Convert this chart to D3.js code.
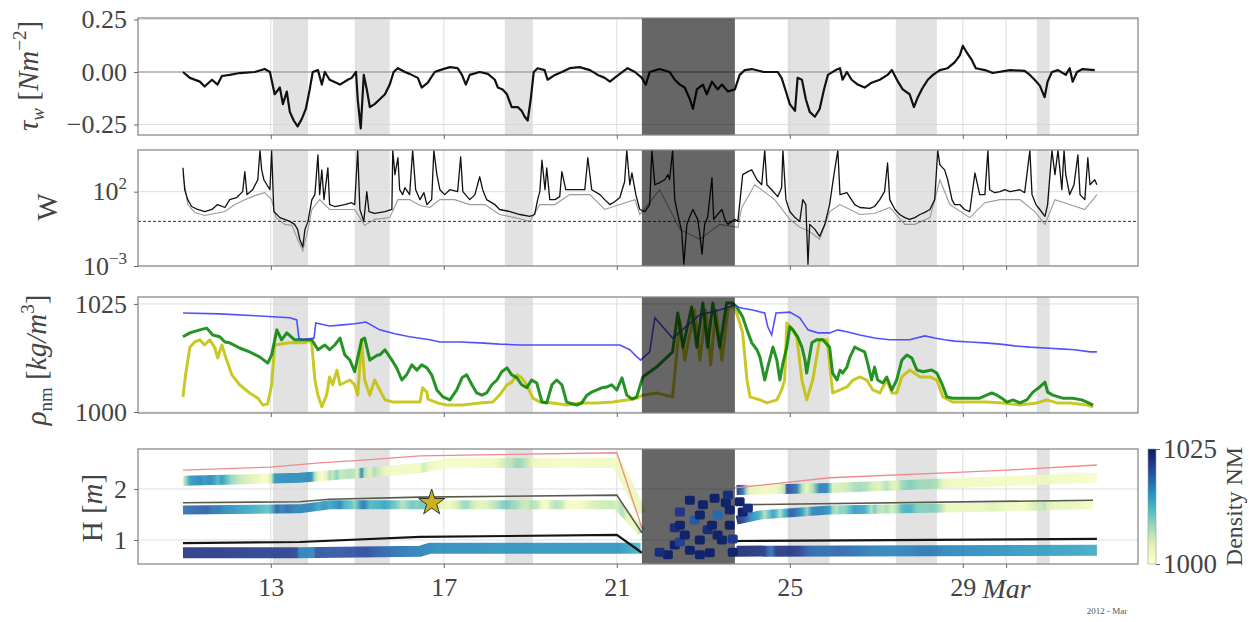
<!DOCTYPE html>
<html>
<head>
<meta charset="utf-8">
<script src="https://cdn.jsdelivr.net/npm/d3@7"></script>
<style>
  body { margin: 0; background: #fff; }
  svg { display: block; font-family: "Liberation Serif", "DejaVu Serif", serif; }
</style>
</head>
<body>
<svg id="chart" width="1250" height="622"></svg>
<script>
// ---- time axis (day of March 2012) ----
const xTicks = [13, 17, 21, 25, 29, 30];
const xTickLabels = ["13", "17", "21", "25", "29", "Mar"];
const lightSpans = [[13.05, 13.86], [14.94, 15.75], [18.41, 19.06], [24.95, 25.92], [27.45, 28.40], [30.71, 31.01]];
const darkSpan = [21.58, 23.73];

// ---- wind stress tau_w [N m^-2] ----
const tauTicks = [-0.25, 0, 0.25];
const tauSeries = [[10.97,0],[11.13,-0.028],[11.36,-0.046],[11.47,-0.069],[11.64,-0.037],[11.77,-0.060],[11.87,-0.019],[12.05,-0.014],[12.28,-0.005],[12.63,0],[12.86,0.014],[12.98,0],[13.09,-0.106],[13.21,-0.074],[13.28,-0.153],[13.37,-0.093],[13.44,-0.19],[13.53,-0.231],[13.62,-0.259],[13.72,-0.222],[13.81,-0.176],[13.90,-0.083],[13.97,0],[14.09,0.009],[14.18,-0.06],[14.25,0],[14.36,-0.037],[14.60,-0.06],[14.78,-0.037],[14.87,-0.028],[14.97,0],[15.01,-0.13],[15.08,-0.269],[15.15,-0.014],[15.22,-0.083],[15.29,-0.167],[15.40,-0.153],[15.52,-0.13],[15.64,-0.106],[15.75,-0.06],[15.84,0],[15.94,0.018],[16.10,0],[16.21,-0.009],[16.40,-0.028],[16.49,-0.074],[16.63,-0.051],[16.79,0],[16.91,0.009],[17.14,0.023],[17.32,0.018],[17.42,-0.014],[17.51,-0.06],[17.60,-0.014],[17.83,0],[18.02,-0.009],[18.18,-0.037],[18.25,-0.074],[18.36,-0.083],[18.46,-0.106],[18.57,-0.167],[18.71,-0.167],[18.80,-0.185],[18.87,-0.213],[18.94,-0.231],[19.01,-0.13],[19.08,0],[19.17,0.018],[19.33,0.009],[19.40,-0.037],[19.57,-0.014],[19.73,0],[19.91,0.018],[20.14,0.023],[20.38,0.009],[20.56,-0.014],[20.72,-0.028],[20.84,-0.046],[20.95,-0.028],[21.07,-0.009],[21.25,0.018],[21.42,0],[21.58,-0.028],[21.67,-0.06],[21.76,0],[21.99,0.014],[22.22,0],[22.34,-0.037],[22.46,-0.06],[22.57,-0.074],[22.69,-0.13],[22.76,-0.176],[22.85,-0.083],[22.99,-0.06],[23.08,-0.106],[23.20,-0.046],[23.33,-0.083],[23.43,-0.06],[23.57,-0.093],[23.73,-0.083],[23.84,-0.014],[23.96,0.009],[24.12,0.014],[24.40,0],[24.72,0],[24.81,-0.028],[24.91,-0.093],[25.00,-0.153],[25.12,-0.185],[25.18,-0.028],[25.28,-0.037],[25.37,-0.13],[25.46,-0.19],[25.58,-0.213],[25.69,-0.176],[25.79,-0.083],[25.88,-0.014],[26.06,0.009],[26.16,0.018],[26.22,-0.037],[26.32,0],[26.43,-0.037],[26.57,-0.06],[26.73,-0.074],[26.89,-0.051],[27.08,-0.037],[27.26,-0.014],[27.36,0.009],[27.50,-0.046],[27.61,-0.083],[27.77,-0.106],[27.87,-0.167],[27.96,-0.12],[28.05,-0.083],[28.19,-0.037],[28.31,-0.014],[28.47,0.009],[28.65,0.018],[28.81,0.046],[28.93,0.079],[29.00,0.125],[29.09,0.093],[29.21,0.056],[29.30,0.018],[29.51,0.009],[29.69,-0.005],[30.09,0.009],[30.43,0.005],[30.55,-0.014],[30.66,-0.037],[30.78,-0.065],[30.89,-0.12],[30.96,-0.046],[31.06,0],[31.20,0.009],[31.38,-0.014],[31.47,0.018],[31.54,-0.046],[31.64,0],[31.77,0.014],[32.05,0.009]];

// ---- W (log scale), two estimates and threshold ----
const wTicks = [1e-3, 1e2];
const wThreshold = 1;
const wBlack = [[10.97,4000],[11.01,135],[11.08,29],[11.17,10],[11.31,6.3],[11.47,4.6],[11.64,6.3],[11.77,13.5],[11.94,8.6],[12.05,29],[12.21,40],[12.35,100],[12.40,2200],[12.45,63],[12.58,135],[12.70,630],[12.75,6e4],[12.79,2900],[12.84,630],[12.91,290],[12.98,135],[13.02,6e4],[13.07,4.6],[13.21,1.8],[13.32,1.36],[13.44,1],[13.55,0.63],[13.62,0.29],[13.67,0.063],[13.74,0.019],[13.79,0.29],[13.86,1],[13.95,29],[14.02,63],[14.09,3e4],[14.13,63],[14.18,2900],[14.23,29],[14.32,4000],[14.36,13.5],[14.48,10],[14.71,13.5],[14.87,18],[14.94,13.5],[15.01,6e4],[15.06,6.3],[15.15,1],[15.22,100],[15.27,4.6],[15.40,3.4],[15.64,4.6],[15.80,6.3],[15.82,6e4],[15.87,1400],[15.94,1.9e4],[15.98,135],[16.05,63],[16.10,185],[16.21,63],[16.28,6e4],[16.35,135],[16.45,29],[16.54,85],[16.61,13.5],[16.72,29],[16.77,6e4],[16.84,1400],[16.91,135],[17.02,63],[17.14,135],[17.32,100],[17.39,2.2e4],[17.44,100],[17.60,29],[17.72,63],[17.83,1000],[17.90,135],[17.99,29],[18.18,13.5],[18.29,6.3],[18.53,4.6],[18.76,2.9],[18.99,2.2],[19.10,2.9],[19.17,29],[19.22,100],[19.27,1.3e4],[19.34,135],[19.38,4000],[19.45,29],[19.57,29],[19.68,46],[19.73,2200],[19.82,135],[20.03,135],[20.26,135],[20.33,1.9e4],[20.42,135],[20.61,63],[20.72,29],[20.84,13.5],[20.95,21],[21.07,40],[21.18,460],[21.23,6e4],[21.30,290],[21.35,1800],[21.44,63],[21.53,6.3],[21.65,4.6],[21.76,13.5],[21.81,6e4],[21.88,290],[21.99,400],[22.11,630],[22.18,1400],[22.22,630],[22.29,6e4],[22.34,29],[22.41,2.9],[22.50,0.21],[22.55,0.0013],[22.62,0.63],[22.69,2.2],[22.76,6.3],[22.87,1.36],[22.92,0.135],[22.97,0.0063],[23.03,0.63],[23.10,1.8],[23.20,860],[23.24,1.36],[23.33,2.9],[23.43,6.3],[23.50,1.36],[23.57,0.63],[23.66,1],[23.73,1.36],[23.80,1],[23.91,1400],[24.03,2200],[24.12,2900],[24.24,630],[24.35,290],[24.42,6e4],[24.47,290],[24.58,135],[24.72,46],[24.81,185],[24.84,6e4],[24.91,29],[25.00,4.6],[25.12,1.8],[25.23,1],[25.30,29],[25.37,13.5],[25.42,0.0013],[25.46,0.63],[25.58,0.29],[25.69,0.1],[25.81,0.63],[25.92,13.5],[26.02,1400],[26.11,6e4],[26.16,63],[26.32,85],[26.50,13.5],[26.62,8.6],[26.85,7.4],[26.96,10],[27.08,29],[27.19,100],[27.26,8500],[27.31,29],[27.43,6.3],[27.54,2.9],[27.66,1.8],[27.77,1.36],[27.89,1.8],[28.01,2.9],[28.12,4],[28.24,6.3],[28.35,29],[28.42,6e4],[28.47,6300],[28.58,2900],[28.65,630],[28.75,29],[28.81,13.5],[28.93,13.5],[29.04,6.3],[29.16,4.6],[29.28,1800],[29.39,63],[29.51,63],[29.58,6e4],[29.62,135],[29.74,85],[29.86,100],[29.97,135],[30.09,100],[30.32,135],[30.43,85],[30.55,6e4],[30.60,63],[30.69,13.5],[30.78,6.3],[30.90,2.2],[30.96,13.5],[31.06,6e4],[31.13,1400],[31.20,6e4],[31.29,135],[31.34,6e4],[31.38,1400],[31.47,63],[31.57,290],[31.66,3e4],[31.71,63],[31.82,29],[31.89,1.9e4],[31.94,290],[32.05,630],[32.10,290]];
const wGray = [[10.97,1400],[11.08,13.5],[11.24,4],[11.47,2.5],[11.71,3.4],[11.94,4.6],[12.17,13.5],[12.40,29],[12.63,54],[12.86,85],[13.02,29],[13.12,1.8],[13.32,0.63],[13.49,0.54],[13.62,0.063],[13.74,0.01],[13.86,0.29],[13.95,6.3],[14.13,29],[14.36,6.3],[14.71,6.3],[14.94,6.3],[15.06,1.8],[15.17,0.54],[15.40,1.36],[15.75,1.8],[15.94,29],[16.21,29],[16.45,11.7],[16.68,8.6],[16.91,29],[17.25,29],[17.60,13.5],[17.95,13.5],[18.29,2.9],[18.64,1.8],[18.99,1],[19.22,13.5],[19.57,13.5],[19.91,63],[20.38,63],[20.72,6.3],[21.07,13.5],[21.42,29],[21.53,2.9],[21.99,135],[22.46,0.29],[22.92,0.063],[23.38,0.63],[23.80,0.4],[23.89,8.6],[24.19,290],[24.65,29],[25.00,1.36],[25.23,0.4],[25.46,0.21],[25.69,0.063],[25.92,4.6],[26.16,13.5],[26.62,2.9],[26.96,3.4],[27.31,8.6],[27.66,0.63],[27.89,0.63],[28.24,1.8],[28.47,630],[28.70,13.5],[29.16,1.8],[29.51,18],[29.86,29],[30.32,29],[30.66,4.6],[30.90,0.63],[31.13,29],[31.47,13.5],[31.82,6.3],[32.10,63]];

// ---- density at three depths [kg m^-3] ----
const rhoTicks = [1000, 1025];
const rhoBlue = [[10.97,1022.9],[11.82,1022.7],[12.75,1022.2],[13.44,1021.8],[13.60,1021.3],[13.65,1017.1],[13.72,1016.7],[14.00,1017.1],[14.04,1020.6],[14.36,1019.9],[14.60,1020.1],[14.94,1020.4],[15.20,1020.8],[15.52,1019.0],[15.87,1018.1],[16.21,1017.4],[16.68,1016.7],[16.91,1016.2],[17.37,1016.2],[17.83,1016.0],[18.29,1015.7],[18.76,1015.5],[19.68,1015.5],[20.61,1015.5],[21.07,1015.5],[21.30,1014.4],[21.44,1013.0],[21.55,1012.0],[21.76,1013.9],[21.88,1021.8],[22.29,1017.1],[22.92,1022.5],[23.38,1023.6],[23.73,1024.8],[23.84,1024.1],[24.14,1023.6],[24.42,1022.9],[24.49,1019.7],[24.58,1017.8],[24.68,1022.9],[25.00,1023.1],[25.23,1021.8],[25.42,1019.0],[25.65,1018.3],[25.92,1018.3],[26.11,1019.0],[26.34,1018.5],[26.62,1017.8],[26.96,1017.1],[27.31,1016.7],[27.77,1016.7],[28.12,1017.6],[28.35,1017.1],[28.58,1016.7],[28.81,1016.4],[29.16,1016.2],[29.51,1016.0],[29.86,1015.7],[30.20,1015.3],[30.55,1015.0],[30.90,1014.8],[31.24,1014.6],[31.59,1014.4],[31.94,1013.9],[32.10,1013.9]];
const rhoGreen = [[10.97,1017.4],[11.13,1018.3],[11.36,1019.0],[11.52,1019.4],[11.66,1017.8],[11.82,1017.4],[11.94,1016.2],[12.05,1016.0],[12.28,1014.8],[12.51,1013.9],[12.75,1012.7],[12.93,1011.3],[13.02,1013.2],[13.14,1019.0],[13.25,1016.7],[13.37,1018.3],[13.55,1016.7],[13.79,1016.7],[13.95,1016.7],[14.09,1014.4],[14.25,1015.5],[14.36,1014.4],[14.48,1015.5],[14.60,1017.1],[14.71,1013.2],[14.83,1012.0],[14.94,1009.3],[15.10,1016.7],[15.17,1017.1],[15.29,1012.0],[15.47,1013.2],[15.52,1013.2],[15.64,1014.4],[15.80,1012.0],[15.91,1010.2],[16.03,1007.4],[16.14,1008.6],[16.26,1010.9],[16.38,1009.7],[16.49,1010.9],[16.61,1010.2],[16.72,1008.6],[16.84,1005.1],[16.98,1003.5],[17.14,1002.8],[17.30,1005.1],[17.42,1007.9],[17.53,1008.6],[17.65,1006.3],[17.76,1004.4],[17.88,1003.9],[17.99,1004.4],[18.11,1006.3],[18.23,1007.4],[18.34,1009.3],[18.46,1010.2],[18.57,1008.6],[18.69,1007.9],[18.80,1006.3],[18.92,1005.6],[19.03,1007.4],[19.15,1006.7],[19.27,1002.3],[19.38,1002.1],[19.50,1006.3],[19.61,1007.4],[19.73,1006.3],[19.84,1002.3],[19.96,1001.9],[20.08,1001.6],[20.19,1002.1],[20.31,1003.9],[20.42,1004.6],[20.54,1005.1],[20.65,1005.6],[20.77,1005.8],[20.88,1006.3],[21.00,1005.1],[21.12,1007.9],[21.23,1003.9],[21.35,1003.0],[21.46,1003.5],[21.60,1008.1],[21.92,1010.4],[22.29,1013.9],[22.41,1022.9],[22.53,1015.0],[22.73,1024.3],[22.85,1015.0],[22.99,1025.2],[23.10,1015.0],[23.22,1025.2],[23.38,1015.0],[23.54,1025.2],[23.68,1025.2],[23.77,1024.3],[23.91,1022.0],[24.01,1019.0],[24.12,1016.0],[24.24,1014.4],[24.31,1012.7],[24.42,1007.4],[24.49,1010.4],[24.61,1015.0],[24.70,1012.0],[24.77,1007.4],[24.84,1011.3],[24.93,1015.0],[25.00,1019.7],[25.07,1019.0],[25.18,1017.4],[25.28,1015.0],[25.35,1012.0],[25.39,1009.0],[25.51,1016.0],[25.62,1016.7],[25.76,1016.7],[25.92,1015.0],[25.99,1009.0],[26.09,1007.4],[26.16,1009.7],[26.22,1009.0],[26.32,1010.4],[26.39,1012.7],[26.50,1015.0],[26.62,1014.4],[26.73,1013.9],[26.80,1011.3],[26.89,1007.4],[26.96,1010.4],[27.03,1007.4],[27.15,1006.7],[27.24,1008.1],[27.36,1005.1],[27.47,1007.4],[27.59,1012.0],[27.71,1013.2],[27.82,1012.5],[27.94,1009.7],[28.08,1009.3],[28.28,1009.7],[28.40,1009.0],[28.51,1006.7],[28.63,1003.5],[28.77,1003.2],[29.16,1003.2],[29.39,1003.2],[29.55,1003.9],[29.67,1004.4],[29.79,1003.9],[29.90,1003.2],[30.02,1002.3],[30.16,1002.8],[30.32,1002.1],[30.48,1002.8],[30.62,1004.6],[30.78,1005.8],[30.90,1006.9],[30.96,1004.6],[31.08,1003.9],[31.31,1003.2],[31.54,1003.2],[31.75,1002.8],[31.87,1002.3],[32.01,1001.6]];
const rhoYellow = [[10.97,1003.5],[11.03,1008.6],[11.13,1015.0],[11.24,1016.2],[11.36,1016.7],[11.47,1015.5],[11.59,1016.7],[11.71,1014.8],[11.77,1012.5],[11.87,1015.5],[11.94,1013.2],[12.10,1008.6],[12.28,1006.3],[12.51,1004.4],[12.70,1003.2],[12.82,1001.6],[12.93,1001.9],[13.02,1006.3],[13.09,1015.5],[13.44,1016.0],[13.79,1016.0],[13.90,1016.7],[13.95,1015.5],[14.02,1007.4],[14.09,1003.9],[14.18,1001.2],[14.29,1003.9],[14.36,1008.1],[14.43,1006.3],[14.53,1009.7],[14.60,1006.3],[14.83,1007.4],[14.94,1006.3],[15.01,1003.9],[15.10,1016.7],[15.17,1007.4],[15.29,1003.9],[15.40,1007.4],[15.52,1005.1],[15.64,1002.8],[15.82,1002.3],[16.28,1002.3],[16.45,1002.3],[16.51,1005.6],[16.61,1004.6],[16.63,1003.0],[16.86,1002.1],[17.07,1001.6],[17.44,1001.6],[17.83,1002.1],[18.13,1002.3],[18.29,1003.9],[18.46,1006.3],[18.57,1006.9],[18.69,1008.6],[18.80,1007.9],[18.92,1006.3],[19.06,1003.2],[19.22,1002.3],[19.52,1002.1],[19.84,1001.6],[20.14,1002.1],[20.54,1002.1],[20.91,1002.3],[21.23,1002.8],[21.46,1003.2],[21.60,1003.9],[21.92,1004.4],[22.29,1003.5],[22.46,1021.3],[22.57,1012.0],[22.80,1023.6],[22.92,1012.0],[23.06,1023.6],[23.17,1010.9],[23.29,1023.6],[23.43,1012.0],[23.57,1023.6],[23.68,1024.8],[23.77,1022.9],[23.91,1018.3],[24.01,1007.4],[24.08,1003.5],[24.31,1002.8],[24.47,1002.1],[24.70,1002.8],[24.81,1005.1],[24.88,1007.4],[24.93,1020.6],[25.07,1019.0],[25.16,1017.4],[25.28,1007.4],[25.39,1002.8],[25.53,1007.4],[25.69,1016.7],[25.86,1016.7],[25.92,1011.3],[25.99,1004.4],[26.16,1005.1],[26.32,1005.8],[26.46,1007.4],[26.62,1008.1],[26.78,1007.4],[26.92,1005.1],[27.08,1004.4],[27.24,1007.4],[27.36,1004.4],[27.47,1004.4],[27.59,1008.1],[27.77,1009.7],[28.01,1008.1],[28.24,1008.1],[28.40,1007.4],[28.54,1003.5],[28.77,1002.3],[29.16,1002.3],[29.55,1002.3],[29.93,1002.1],[30.32,1001.6],[30.71,1002.1],[30.94,1002.8],[31.18,1002.1],[31.47,1002.1],[31.87,1001.6],[32.01,1001.2]];

// ---- sensor heights H [m] (null = gap) ----
const hTicks = [1, 2];
const hTopBand = [[10.97,2.16],[13.67,2.22],[15.29,2.33],[16.45,2.41],[17.14,2.51],[21.00,2.51],[21.58,1.53],null,[23.77,1.98],[25.92,2.02],[29.00,2.12],[32.10,2.22]];
const hMidBand = [[10.97,1.59],[13.67,1.61],[14.36,1.69],[21.00,1.69],[21.58,1.16],null,[23.77,1.39],[24.31,1.49],[25.92,1.59],[29.00,1.63],[32.01,1.69]];
const hBotBand = [[10.97,0.75],[13.67,0.75],[16.45,0.78],[16.68,0.84],[21.55,0.84],null,[23.77,0.78],[32.10,0.80]];
const hPinkLine = [[10.97,2.37],[12.98,2.43],[14.13,2.51],[15.22,2.57],[16.45,2.65],[21.00,2.71],[21.58,1.24],null,[23.73,2.02],[25.92,2.22],[29.00,2.33],[30.02,2.37],[32.10,2.47]];
const hMidLine = [[10.97,1.73],[13.67,1.75],[14.36,1.80],[16.45,1.84],[21.00,1.88],[21.58,1.14],null,[23.73,1.69],[32.01,1.78]];
const hBotLine = [[10.97,0.94],[13.67,0.96],[16.45,1.06],[21.00,1.10],[21.58,0.75],null,[23.77,0.98],[32.10,1.02]];
const hMixingPoints = [[22.34,0.90,1024],[22.34,1.24,1023],[22.46,1.55,1022],[22.46,1.29,1024],[22.46,0.96,1021],[22.57,1.10,1024],[22.69,1.78,1024],[22.69,0.80,1024],[22.80,1.39,1019],[22.92,1.00,1024],[22.92,1.49,1024],[22.92,0.71,1024],[22.99,1.69,1024],[23.10,1.20,1023],[23.15,0.75,1024],[23.20,1.29,1024],[23.26,1.82,1024],[23.33,1.49,1018],[23.33,1.10,1024],[23.43,1.00,1024],[23.52,1.73,1024],[23.57,1.88,1023],[23.61,1.29,1024],[23.61,1.59,1024],[23.68,0.76,1024],[23.68,1.02,1022],[22.18,0.71,1024],[21.99,0.76,1023],[23.84,1.75,1024],[23.91,1.55,1024],[24.03,1.62,1023]];
const starPoint = [16.72, 1.73];
const densityTicks = [1000, 1025];

// ---------------------------------------------------------------
const svg = d3.select("#chart");
const defs = svg.append("defs");
const LEFT = 138, RIGHT = 1138;
const FONT = "'Liberation Serif', 'DejaVu Serif', serif";
const TXT = "#444";

const x = d3.scaleLinear().domain([9.93, 33.05]).range([LEFT, RIGHT]);
const panels = [
  { top: 18, bottom: 135 },
  { top: 150, bottom: 266 },
  { top: 297, bottom: 413 },
  { top: 449, bottom: 564 }
];
const yTau = d3.scaleLinear().domain([-0.30, 0.257]).range([135, 18]);
const yW = d3.scaleLog().domain([1e-3, Math.pow(10, 4.8)]).range([266, 150]);
const yRho = d3.scaleLinear().domain([999.77, 1026.6]).range([413, 297]);
const yH = d3.scaleLinear().domain([0.529, 2.784]).range([564, 449]);
const dens = d3.scaleSequential(d3.interpolateYlGnBu).domain([1000, 1025]);

function setupPanel(i, yScale, yTickVals) {
  const p = panels[i];
  const h = p.bottom - p.top;
  defs.append("clipPath").attr("id", "clip" + i)
    .append("rect").attr("x", LEFT).attr("y", p.top).attr("width", RIGHT - LEFT).attr("height", h);
  const g = svg.append("g");
  const plot = g.append("g").attr("clip-path", `url(#clip${i})`);
  plot.selectAll("rect.span").data(lightSpans).join("rect")
    .attr("x", d => x(d[0])).attr("width", d => x(d[1]) - x(d[0]))
    .attr("y", p.top).attr("height", h).attr("fill", "#e2e2e2");
  plot.selectAll("line.vg").data(xTicks).join("line")
    .attr("x1", d => x(d)).attr("x2", d => x(d))
    .attr("y1", p.top).attr("y2", p.bottom)
    .attr("stroke", "#d6d6d6").attr("stroke-width", 0.8);
  plot.selectAll("line.hg").data(yTickVals).join("line")
    .attr("x1", LEFT).attr("x2", RIGHT)
    .attr("y1", d => yScale(d)).attr("y2", d => yScale(d))
    .attr("stroke", "#d6d6d6").attr("stroke-width", 0.8);
  return { g, plot, p, h };
}

// dark shaded period, drawn over the data
function shadeDark(P) {
  P.plot.append("rect")
    .attr("x", x(darkSpan[0])).attr("width", x(darkSpan[1]) - x(darkSpan[0]))
    .attr("y", P.p.top).attr("height", P.h)
    .attr("fill", "#000").attr("opacity", 0.6);
}

function drawFrame(P, yScale, yTickVals, fmt, withLabels) {
  P.g.append("rect").attr("x", LEFT).attr("y", P.p.top)
    .attr("width", RIGHT - LEFT).attr("height", P.h)
    .attr("fill", "none").attr("stroke", "#8a8a8a").attr("stroke-width", 1.3);
  const ya = P.g.append("g").attr("transform", `translate(${LEFT},0)`)
    .call(d3.axisLeft(yScale).tickValues(yTickVals).tickSize(4).tickPadding(7).tickFormat(fmt));
  ya.select(".domain").remove();
  ya.attr("font-family", FONT).attr("font-size", 26);
  ya.selectAll("line").attr("stroke", "#666");
  ya.selectAll("text").attr("fill", TXT);
  const xa = P.g.append("g").attr("transform", `translate(0,${P.p.bottom})`)
    .call(d3.axisBottom(x).tickValues(xTicks).tickSize(4).tickPadding(10)
      .tickFormat((d, i) => withLabels ? xTickLabels[i] : ""));
  xa.select(".domain").remove();
  xa.attr("font-family", FONT).attr("font-size", 26);
  xa.selectAll("line").attr("stroke", "#666");
  xa.selectAll("text").attr("fill", TXT)
    .attr("font-style", (d, i) => xTickLabels[i] === "Mar" ? "italic" : null)
    .attr("font-size", (d, i) => xTickLabels[i] === "Mar" ? 28 : null);
  return ya;
}

const lineGen = d3.line().defined(d => d !== null).x(d => x(d[0]));

// ---- panel 1: wind stress ----
{
  const P = setupPanel(0, yTau, tauTicks);
  P.plot.append("line").attr("x1", LEFT).attr("x2", RIGHT)
    .attr("y1", yTau(0)).attr("y2", yTau(0)).attr("stroke", "#8c8c8c").attr("stroke-width", 1.2);
  P.plot.append("path").datum(tauSeries)
    .attr("d", lineGen.y(d => yTau(d[1])))
    .attr("fill", "none").attr("stroke", "#111").attr("stroke-width", 2.2)
    .attr("stroke-linejoin", "round");
  shadeDark(P);
  drawFrame(P, yTau, tauTicks,
    d => d === 0 ? "0.00" : (d < 0 ? "\u2212" : "") + Math.abs(d).toFixed(2), false);
}

// ---- panel 2: W ----
{
  const P = setupPanel(1, yW, wTicks);
  P.plot.append("path").datum(wGray)
    .attr("d", lineGen.y(d => yW(d[1])))
    .attr("fill", "none").attr("stroke", "#9a9a9a").attr("stroke-width", 1.1);
  P.plot.append("line").attr("x1", LEFT).attr("x2", RIGHT)
    .attr("y1", yW(wThreshold)).attr("y2", yW(wThreshold))
    .attr("stroke", "#333").attr("stroke-width", 1).attr("stroke-dasharray", "3,2");
  P.plot.append("path").datum(wBlack)
    .attr("d", lineGen.y(d => yW(d[1])))
    .attr("fill", "none").attr("stroke", "#111").attr("stroke-width", 1.3)
    .attr("stroke-linejoin", "round");
  shadeDark(P);
  const ya = drawFrame(P, yW, wTicks, () => "", false);
  ya.selectAll(".tick text").each(function (d) {
    const t = d3.select(this);
    t.text(null);
    t.append("tspan").text("10");
    t.append("tspan").attr("dy", -11).attr("font-size", 17).text(d === 100 ? "2" : "\u22123");
  });
}

// ---- panel 3: densities ----
{
  const P = setupPanel(2, yRho, rhoTicks);
  P.plot.append("path").datum(rhoYellow)
    .attr("d", lineGen.y(d => yRho(d[1])))
    .attr("fill", "none").attr("stroke", "#bfbf00").attr("stroke-width", 3).attr("opacity", 0.85)
    .attr("stroke-linejoin", "round");
  P.plot.append("path").datum(rhoGreen)
    .attr("d", lineGen.y(d => yRho(d[1])))
    .attr("fill", "none").attr("stroke", "#008000").attr("stroke-width", 3).attr("opacity", 0.85)
    .attr("stroke-linejoin", "round");
  P.plot.append("path").datum(rhoBlue)
    .attr("d", lineGen.y(d => yRho(d[1])))
    .attr("fill", "none").attr("stroke", "#3333ff").attr("stroke-width", 1.6).attr("opacity", 0.85);
  shadeDark(P);
  drawFrame(P, yRho, rhoTicks, d => d, false);
}

// ---- panel 4: heights coloured by density ----
{
  const P = setupPanel(3, yH, hTicks);
  // horizontal gradients built from each density record
  function bandGradient(id, band, series) {
    const pts = band.filter(d => d !== null);
    const d0 = pts[0][0], d1 = pts[pts.length - 1][0];
    const x1 = x(d0), x2 = x(d1);
    const grad = defs.append("linearGradient").attr("id", id)
      .attr("gradientUnits", "userSpaceOnUse")
      .attr("x1", x1).attr("x2", x2).attr("y1", 0).attr("y2", 0);
    series.filter(s => s[0] >= d0 && s[0] <= d1).forEach(s => {
      grad.append("stop").attr("offset", (x(s[0]) - x1) / (x2 - x1)).attr("stop-color", dens(s[1]));
    });
  }
  bandGradient("gTop", hTopBand, rhoYellow);
  bandGradient("gMid", hMidBand, rhoGreen);
  bandGradient("gBot", hBotBand, rhoBlue);
  [[hTopBand, "gTop", 10], [hMidBand, "gMid", 9], [hBotBand, "gBot", 11]].forEach(([band, id, w]) => {
    P.plot.append("path").datum(band)
      .attr("d", lineGen.y(d => yH(d[1])))
      .attr("fill", "none").attr("stroke", `url(#${id})`).attr("stroke-width", w)
      .attr("opacity", 0.88);
  });
  P.plot.append("path").datum(hPinkLine).attr("d", lineGen.y(d => yH(d[1])))
    .attr("fill", "none").attr("stroke", "#f08a8a").attr("stroke-width", 1.3);
  P.plot.append("path").datum(hMidLine).attr("d", lineGen.y(d => yH(d[1])))
    .attr("fill", "none").attr("stroke", "#5a5a4a").attr("stroke-width", 1.6);
  P.plot.append("path").datum(hBotLine).attr("d", lineGen.y(d => yH(d[1])))
    .attr("fill", "none").attr("stroke", "#151515").attr("stroke-width", 2.2);
  shadeDark(P);
  P.plot.selectAll("rect.mix").data(hMixingPoints).join("rect")
    .attr("x", d => x(d[0]) - 5).attr("y", d => yH(d[1]) - 4.5)
    .attr("width", 10).attr("height", 9).attr("rx", 2)
    .attr("fill", d => dens(d[2]));
  P.g.append("path")
    .attr("d", d3.symbol().type(d3.symbolStar).size(210)())
    .attr("transform", `translate(${x(starPoint[0])},${yH(starPoint[1])})`)
    .attr("fill", "#cdb21a").attr("stroke", "#333").attr("stroke-width", 1);
  drawFrame(P, yH, hTicks, d => d, true);
}

// ---- y-axis titles ----
function axisTitle(cx, cy, parts) {
  const t = svg.append("text")
    .attr("transform", `translate(${cx},${cy}) rotate(-90)`)
    .attr("text-anchor", "middle").attr("dy", "0.35em")
    .attr("font-family", FONT).attr("font-size", 29).attr("fill", TXT);
  parts.forEach(pt => {
    const s = t.append("tspan").text(pt.t);
    if (pt.it) s.attr("font-style", "italic");
    if (pt.fs) s.attr("font-size", pt.fs);
    if (pt.dy) s.attr("dy", pt.dy);
  });
}
axisTitle(28, 76, [
  { t: "\u03C4", it: true }, { t: "w", it: true, fs: 19, dy: 6 },
  { t: " [", dy: -6 }, { t: "Nm", it: true }, { t: "\u22122", fs: 19, dy: -12 }, { t: "]", dy: 12 }
]);
axisTitle(47, 207, [{ t: "W" }]);
axisTitle(36, 360, [
  { t: "\u03C1", it: true }, { t: "nm", fs: 19, dy: 6 },
  { t: " [", dy: -6 }, { t: "kg/m", it: true }, { t: "3", fs: 19, dy: -12 }, { t: "]", dy: 12 }
]);
axisTitle(92, 508, [{ t: "H [" }, { t: "m", it: true }, { t: "]" }]);

// ---- colour bar ----
{
  const cbX = 1148, cbW = 8, cbTop = 449, cbBot = 564;
  const cbScale = d3.scaleLinear().domain([1000, 1025]).range([cbBot, cbTop]);
  const grad = defs.append("linearGradient").attr("id", "cbGrad")
    .attr("x1", 0).attr("y1", 1).attr("x2", 0).attr("y2", 0);
  d3.range(0, 1.0001, 0.1).forEach(t => {
    grad.append("stop").attr("offset", t).attr("stop-color", dens(1000 + 25 * t));
  });
  svg.append("rect").attr("x", cbX).attr("y", cbTop).attr("width", cbW).attr("height", cbBot - cbTop)
    .attr("fill", "url(#cbGrad)").attr("stroke", "#999").attr("stroke-width", 0.6);
  const ca = svg.append("g").attr("transform", `translate(${cbX + cbW},0)`)
    .call(d3.axisRight(cbScale).tickValues(densityTicks).tickSize(4).tickPadding(3)
      .tickFormat(d3.format("d")));
  ca.select(".domain").remove();
  ca.attr("font-family", FONT).attr("font-size", 27);
  ca.selectAll("line").attr("stroke", "#666");
  ca.selectAll("text").attr("fill", TXT);
  svg.append("text")
    .attr("transform", `translate(1234,${(cbTop + cbBot) / 2}) rotate(-90)`)
    .attr("text-anchor", "middle").attr("dy", "0.35em")
    .attr("font-family", FONT).attr("font-size", 24).attr("fill", TXT)
    .text("Density NM");
}

svg.append("text").attr("x", 1107).attr("y", 614).attr("text-anchor", "middle")
  .attr("font-family", FONT).attr("font-size", 9).attr("fill", "#555").text("2012 - Mar");
</script>
</body>
</html>
